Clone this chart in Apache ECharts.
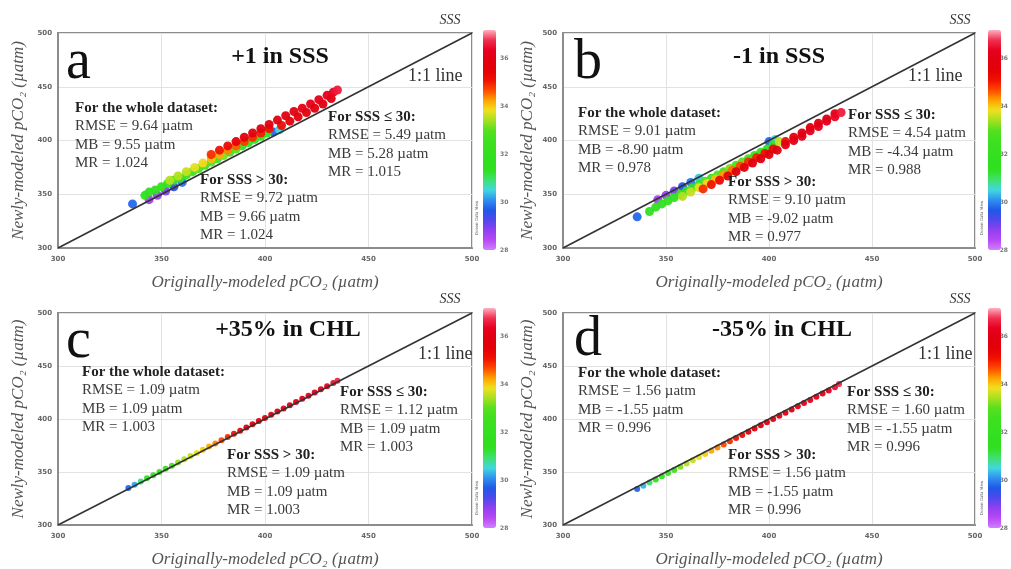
<!DOCTYPE html>
<html><head><meta charset="utf-8">
<script src="https://cdn.jsdelivr.net/npm/echarts/dist/echarts.min.js"></script>
<style>html,body{margin:0;padding:0;background:#fff}#c{width:1011px;height:569px}</style>
</head><body><div id="c"></div><script>
// ---------- data ----------
const axisTicks = [300, 350, 400, 450, 500];
const sssTicks = [28, 30, 32, 34, 36];
const sssMax = 37.2;
const panelLetters = ['a', 'b', 'c', 'd'];
const panelTitles = ['+1 in SSS', '-1 in SSS', '+35% in CHL', '-35% in CHL'];
const xName = 'Originally-modeled pCO₂ (µatm)';
const yName = 'Newly-modeled pCO₂ (µatm)';
const headWhole = 'For the whole dataset:';
const headLow = 'For SSS ≤ 30:';
const headHigh = 'For SSS > 30:';
const statsWhole = [['9.64', '9.55', '1.024'], ['9.01', '-8.90', '0.978'], ['1.09', '1.09', '1.003'], ['1.56', '-1.55', '0.996']];
const statsLow = [['5.49', '5.28', '1.015'], ['4.54', '-4.34', '0.988'], ['1.12', '1.09', '1.003'], ['1.60', '-1.55', '0.996']];
const statsHigh = [['9.72', '9.66', '1.024'], ['9.10', '-9.02', '0.977'], ['1.09', '1.09', '1.003'], ['1.56', '-1.55', '0.996']];
const oneToOne = [[300, 300], [500, 500]];

// [original pCO2, newly pCO2, SSS]
const pointsA = [
 [336,341,29.8],[344,345,28.6],[348,349,28.7],[352,353,28.9],[356,357,29.5],[360,361,29.9],[404,408,29.8],[407,410,30.5],
 [342,349,31.4],[344,352,31.6],[347,354,31.8],[350,357,32.0],[353,360,31.7],[356,363,32.2],[359,365,32.4],[362,368,32.1],[365,371,32.6],[368,374,32.9],[371,377,32.5],[374,380,33.0],[377,383,32.7],[380,386,33.2],[383,389,32.8],[386,392,33.0],[389,395,32.4],[392,398,32.1],[395,401,31.8],[398,404,31.6],[401,407,31.3],
 [354,363,33.5],[358,367,33.5],[362,371,33.6],[366,375,33.8],[370,379,33.9],[374,383,34.1],[378,387,34.2],[382,391,34.4],[386,395,34.6],[390,399,34.8],[394,403,34.9],[398,407,35.0],[402,411,35.1],
 [408,414,35.2],[412,418,35.5],[416,422,35.6],[420,426,35.7],[424,430,35.8],[428,434,35.9],[432,439,36.0],
 [374,387,34.9],[378,391,35.1],[382,395,35.3],[386,399,35.5],[390,403,35.7],[394,407,35.8],[398,411,35.9],[402,415,35.9],[406,419,35.9],[410,423,36.0],[414,427,36.0],[418,430,36.1],[422,434,36.1],[426,438,36.2],[430,442,36.2],[433,445,36.4],[435,447,36.6]
];
const pointsB = [
 [336,329,29.8],[346,345,28.6],[350,349,28.7],[354,353,29.0],[358,357,29.6],[362,361,29.9],[366,365,30.4],[400,399,29.8],[403,401,30.5],
 [342,334,31.4],[345,338,31.6],[348,341,31.8],[351,344,32.0],[354,347,31.7],[357,350,32.2],[360,353,32.4],[363,356,32.1],[366,359,32.6],[369,362,32.9],[372,365,32.5],[375,368,33.0],[378,371,32.7],[381,374,33.2],[384,377,32.8],[387,380,33.0],[390,383,32.4],[393,386,32.1],[396,389,31.8],[399,392,31.6],[402,396,31.3],[405,399,33.6],
 [358,348,33.5],[362,352,33.6],[366,356,33.8],[370,360,33.9],[374,364,34.1],[378,368,34.3],[382,372,34.5],[386,376,34.7],[390,380,34.9],[394,384,35.0],[398,388,35.1],[402,392,35.3],
 [408,399,35.2],[412,403,35.5],[416,407,35.6],[420,412,35.7],[424,416,35.8],[428,420,35.9],[432,425,36.0],
 [368,355,34.9],[372,359,35.1],[376,363,35.3],[380,367,35.5],[384,371,35.7],[388,375,35.8],[392,379,35.9],[396,383,35.9],[400,387,35.9],[404,391,36.0],[408,396,36.0],[412,400,36.1],[416,404,36.1],[420,409,36.2],[424,413,36.2],[428,418,36.2],[432,422,36.4],[435,426,36.6]
];
const pointsC = [
 [334,335,29.8],[337,338,30.2],[340,341,30.9],[343,344,31.5],[346,347,31.8],[349,350,32.0],[352,353,32.3],[355,356,32.8],[358,359,33.3],[361,362,33.5],[364,365,33.6],[367,368,33.8],[370,371,34.0],[373,374,34.2],[376,377,34.4],[379,380,34.7],[382,383,34.9],[385,386,35.1],[388,389,35.3],[391,392,35.5],[394,395,35.7],[397,398,35.8],[400,401,35.9],[403,404,35.9],[406,407,35.9],[409,410,36.0],[412,413,36.0],[415,416,36.1],[418,419,36.1],[421,422,36.2],[424,425,36.2],[427,428,36.2],[430,431,36.3],[433,434,36.5],[435,436,36.7]
];
const pointsD = [
 [336,334,29.8],[339,337,30.3],[342,340,31.0],[345,343,31.5],[348,346,31.8],[351,349,32.1],[354,352,32.6],[357,355,33.2],[360,358,33.5],[363,361,33.6],[366,364,33.8],[369,367,34.0],[372,370,34.2],[375,373,34.4],[378,376,34.7],[381,379,34.9],[384,382,35.1],[387,385,35.3],[390,388,35.5],[393,391,35.7],[396,394,35.8],[399,397,35.9],[402,400,35.9],[405,403,35.9],[408,406,36.0],[411,409,36.0],[414,412,36.1],[417,415,36.1],[420,418,36.2],[423,421,36.2],[426,424,36.2],[429,427,36.3],[432,430,36.5],[434,433,36.7]
];
const panelPoints = [pointsA, pointsB, pointsC, pointsD];

// ---------- layout / style ----------
const SERIF = '"Liberation Serif","Times New Roman",serif';
const mainGrids = [
 {left:58, top:33, width:414, height:215},
 {left:563, top:33, width:412, height:215},
 {left:58, top:313, width:414, height:215},
 {left:563, top:313, width:412, height:215}
];
const barGrids = [
 {left:483, top:30, width:13, height:220},
 {left:988, top:30, width:13, height:220},
 {left:483, top:308, width:13, height:220},
 {left:988, top:308, width:13, height:220}
];
const yNameGap = [31, 27, 31, 27];
const letterXY = [[66,63],[574,63],[66,342],[574,340]];
const titleXY = [[280,57],[779,57],[288,330],[782,330]];
const lineLabelXY = [[408,76],[908,76],[418,354],[918,354]];
const sssLabelXY = [[450,20],[960,20],[450,299],[960,299]];
const wholeXY = [[75,113],[578,118],[82,377],[578,378]];
const lowXY = [[328,122],[848,120],[340,397],[847,397]];
const highXY = [[200,185],[728,187],[227,460],[728,460]];
const odvXY = [[477,218],[982,218],[477,498],[982,498]];
const LINE_H = 18.4;
const cbColors = ['#d080ff','#b848f4','#9040f0','#5048ec','#2058e8','#3090f0','#40d8e0','#40e070','#30e020','#30e020','#38e020','#40e020','#58e020','#a8e020','#f0e020','#ffa000','#ff4800','#f01000','#e40008','#e00010','#e80020','#f03050','#ffb0c0'];

const grid = mainGrids.map(r => Object.assign({}, r, {show:true, borderColor:'#8c8c8c', borderWidth:2}))
  .concat(barGrids.map(r => Object.assign({}, r, {show:false})));

const xAxis = [], yAxis = [];
const tickLabel = {fontSize:7, fontWeight:'bold', color:'#666', fontFamily:'DejaVu Sans'};
mainGrids.forEach((r, i) => {
  const common = {
    type:'value', gridIndex:i, min:axisTicks[0], max:axisTicks[axisTicks.length-1], interval:axisTicks[1]-axisTicks[0],
    axisLine:{show:true, lineStyle:{color:'#8c8c8c', width:2}}, axisTick:{show:false},
    splitLine:{show:true, lineStyle:{color:'#e2e2e2', width:1}},
    nameLocation:'middle',
    nameTextStyle:{fontFamily:SERIF, fontStyle:'italic', fontSize:17, color:'#555'}
  };
  xAxis.push(Object.assign({}, common, {name:xName, nameGap:26, axisLabel:Object.assign({margin:8}, tickLabel)}));
  yAxis.push(Object.assign({}, common, {name:yName, nameGap:yNameGap[i], nameRotate:90, axisLabel:Object.assign({margin:6}, tickLabel)}));
});
barGrids.forEach((r, j) => {
  const gi = 4 + j;
  xAxis.push({type:'value', gridIndex:gi, show:false, min:0, max:1});
  yAxis.push({type:'value', gridIndex:gi, position:'right', min:sssTicks[0], max:sssMax, interval:sssTicks[1]-sssTicks[0],
    axisLine:{show:false}, axisTick:{show:false}, splitLine:{show:false},
    axisLabel:{fontSize:6, fontWeight:'bold', color:'#777', margin:4, fontFamily:'DejaVu Sans',
      formatter: v => sssTicks.indexOf(v) >= 0 ? String(v) : ''}});
});

const series = [];
panelPoints.forEach((pts, i) => {
  series.push({type:'scatter', xAxisIndex:i, yAxisIndex:i, data:pts, symbolSize: i < 2 ? 9 : 6,
    itemStyle:{opacity:0.95}, z:2, silent:true});
});
panelPoints.forEach((pts, i) => {
  series.push({type:'line', xAxisIndex:i, yAxisIndex:i, data:oneToOne, symbol:'none',
    lineStyle:{color:'#333', width:1.6}, z:3, silent:true});
});

const visualMap = barGrids.map((r, i) => ({
  type:'continuous', min:sssTicks[0], max:sssMax, dimension:2, seriesIndex:i,
  left:r.left, top:r.top, itemWidth:r.width, itemHeight:r.height, padding:0,
  calculable:false, realtime:false, orient:'vertical', text:null, hoverLink:false,
  inRange:{color:cbColors}
}));

const graphic = [];
function txt(x, y, text, font, fill, align) {
  graphic.push({type:'text', x:x, y:y, silent:true, z:100,
    style:{text:text, font:font, fill:fill, align:align || 'left', verticalAlign:'middle'}});
}
function block(xy, head, st) {
  const x = xy[0], b = xy[1];
  txt(x, b - 5, head, 'bold 15px ' + SERIF, '#222');
  txt(x, b - 5 + LINE_H, 'RMSE = ' + st[0] + ' µatm', '15px ' + SERIF, '#3a3a3a');
  txt(x, b - 5 + 2*LINE_H, 'MB = ' + st[1] + ' µatm', '15px ' + SERIF, '#3a3a3a');
  txt(x, b - 5 + 3*LINE_H, 'MR = ' + st[2], '15px ' + SERIF, '#3a3a3a');
}
for (let i = 0; i < 4; i++) {
  txt(letterXY[i][0], letterXY[i][1], panelLetters[i], '56px ' + SERIF, '#111');
  txt(titleXY[i][0], titleXY[i][1], panelTitles[i], 'bold 24px ' + SERIF, '#111', 'center');
  txt(lineLabelXY[i][0], lineLabelXY[i][1], '1:1 line', '18px ' + SERIF, '#333');
  txt(sssLabelXY[i][0], sssLabelXY[i][1], 'SSS', 'italic 14px ' + SERIF, '#333', 'center');
  block(wholeXY[i], headWhole, statsWhole[i]);
  block(lowXY[i], headLow, statsLow[i]);
  block(highXY[i], headHigh, statsHigh[i]);
  graphic.push({type:'text', x:odvXY[i][0], y:odvXY[i][1], rotation:Math.PI/2, silent:true,
    style:{text:'Ocean Data View', font:'4px "DejaVu Sans"', fill:'#555', align:'center', verticalAlign:'middle'}});
}

const chart = echarts.init(document.getElementById('c'), null, {renderer:'canvas'});
chart.setOption({animation:false, backgroundColor:'#fff', grid, xAxis, yAxis, series, visualMap, graphic});
</script></body></html>
